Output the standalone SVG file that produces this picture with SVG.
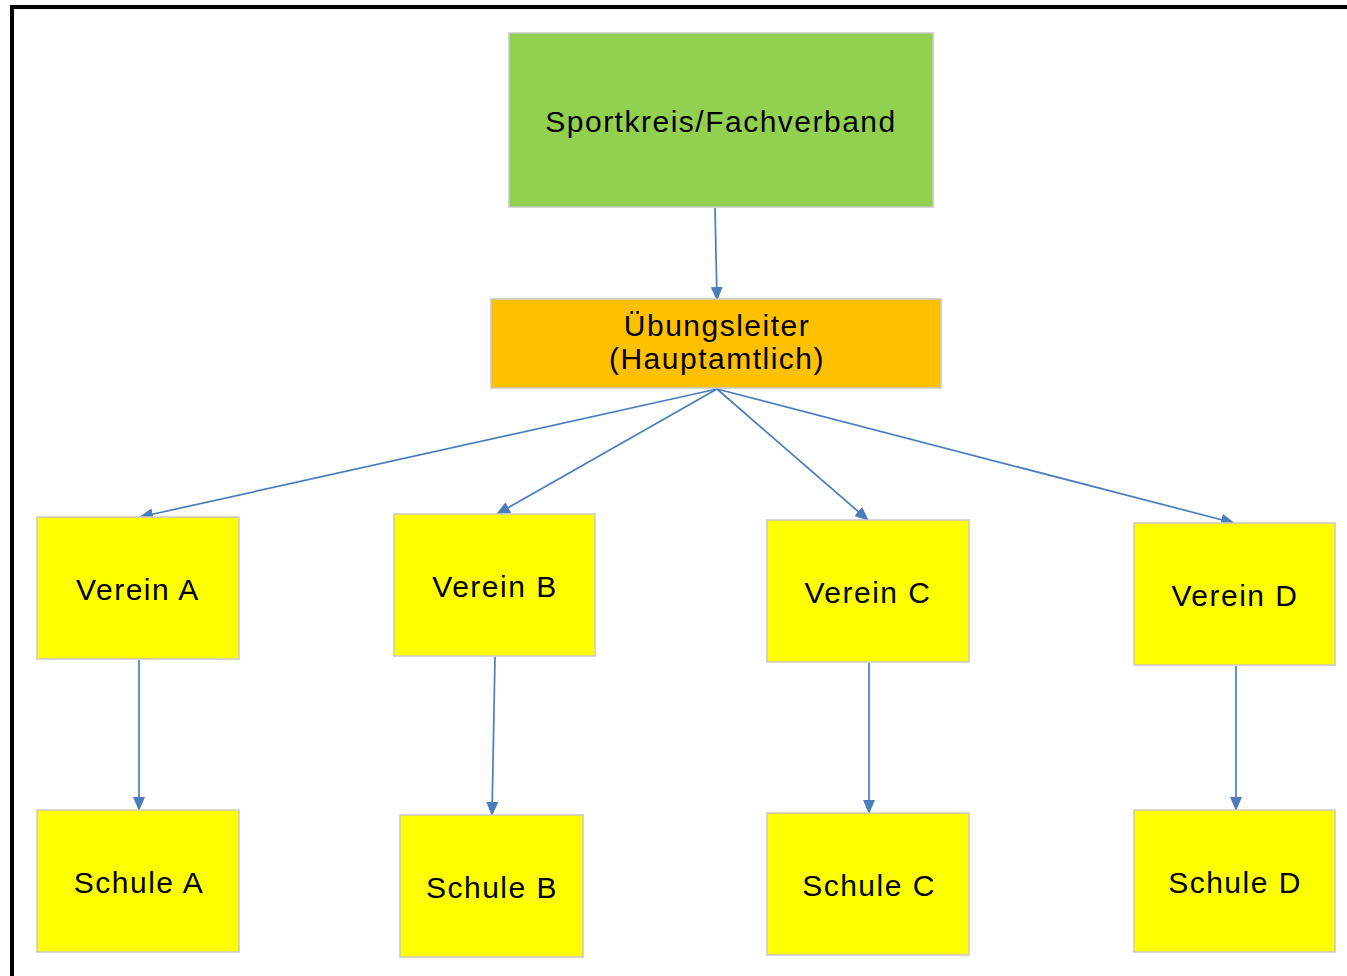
<svg xmlns="http://www.w3.org/2000/svg" width="1347" height="976" viewBox="0 0 1347 976">
<style>
.box{stroke:#c8c8c8;stroke-width:1.5}
.y{fill:#FFFF00}
.t{font-family:"Liberation Sans",Arial,sans-serif;font-size:30px;letter-spacing:1.5px;fill:#000;text-anchor:middle;dominant-baseline:central}
.c{stroke:#4A7EBB;stroke-width:1.7;fill:none;marker-end:url(#a)}
</style>
<defs>
<marker id="a" markerWidth="14" markerHeight="12" refX="13" refY="6" orient="auto" markerUnits="userSpaceOnUse">
<path d="M0,0 L14,6 L0,12 Z" fill="#4A7EBB"/>
</marker>
</defs>
<rect width="1347" height="976" fill="#fff"/>
<path d="M12,976 V7 H1347" fill="none" stroke="#000" stroke-width="4"/>
<g id="connectors">
<line class="c" x1="715" y1="208" x2="717" y2="300"/>
<line class="c" x1="717" y1="389" x2="140" y2="517"/>
<line class="c" x1="717" y1="389" x2="497" y2="514"/>
<line class="c" x1="717" y1="389" x2="868" y2="520"/>
<line class="c" x1="717" y1="389" x2="1234" y2="523"/>
<line class="c" x1="139" y1="660" x2="139" y2="810"/>
<line class="c" x1="495" y1="657" x2="492" y2="815"/>
<line class="c" x1="869" y1="663" x2="869" y2="813"/>
<line class="c" x1="1236" y1="666" x2="1236" y2="810"/>
</g>
<g id="sportkreis"><rect class="box" x="509" y="33" width="424" height="174" fill="#92D050"/><text class="t" x="721" y="121">Sportkreis/Fachverband</text></g>
<g id="uebungsleiter"><rect class="box" x="491" y="299" width="450" height="89" fill="#FFC000"/><text class="t" x="717" y="325">Übungsleiter</text><text class="t" x="717" y="358">(Hauptamtlich)</text></g>
<g id="vereinA"><rect class="box y" x="37" y="517" width="202" height="142"/><text class="t" x="138" y="589">Verein A</text></g>
<g id="vereinB"><rect class="box y" x="394" y="514" width="201" height="142"/><text class="t" x="495" y="586">Verein B</text></g>
<g id="vereinC"><rect class="box y" x="767" y="520" width="202" height="142"/><text class="t" x="868" y="592">Verein C</text></g>
<g id="vereinD"><rect class="box y" x="1134" y="523" width="201" height="142"/><text class="t" x="1235" y="595">Verein D</text></g>
<g id="schuleA"><rect class="box y" x="37" y="810" width="202" height="142"/><text class="t" x="139" y="882">Schule A</text></g>
<g id="schuleB"><rect class="box y" x="400" y="815" width="183" height="142"/><text class="t" x="492" y="887">Schule B</text></g>
<g id="schuleC"><rect class="box y" x="767" y="813" width="202" height="142"/><text class="t" x="869" y="885">Schule C</text></g>
<g id="schuleD"><rect class="box y" x="1134" y="810" width="201" height="142"/><text class="t" x="1235" y="882">Schule D</text></g>
</svg>
